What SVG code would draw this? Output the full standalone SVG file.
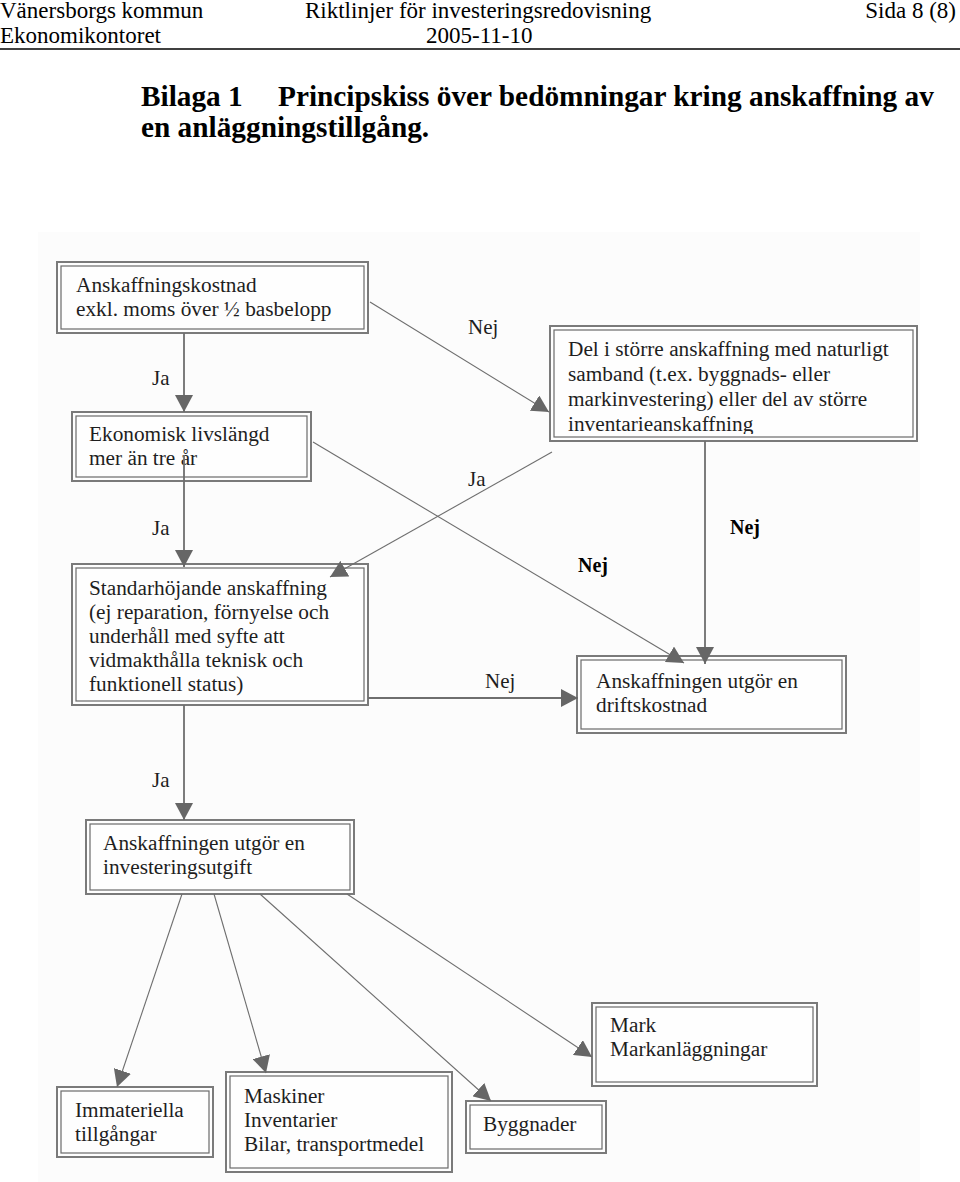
<svg xmlns="http://www.w3.org/2000/svg" width="960" height="1182" viewBox="0 0 960 1182">
<style>
.hdr{font-family:"Liberation Serif","Times New Roman",serif;font-size:23px;fill:#000}
.ttl{font-family:"Liberation Serif","Times New Roman",serif;font-size:29.3px;font-weight:bold;fill:#000}
.bo{fill:#fefefe;stroke:#7a7a7a;stroke-width:2}
.bi{fill:none;stroke:#6a6a6a;stroke-width:1.2}
.t{font-family:"Liberation Serif","Times New Roman",serif;font-size:21.3px;fill:#1e1e1e}
.lbl{font-family:"Liberation Serif","Times New Roman",serif;font-size:21px;fill:#1e1e1e}
.lblb{font-family:"Liberation Serif","Times New Roman",serif;font-size:20px;font-weight:bold;fill:#000}
.v{fill:none;stroke:#6e6e6e;stroke-width:1.8}
.d{fill:none;stroke:#6e6e6e;stroke-width:1.1}
</style>
<defs>
<marker id="ah" markerUnits="userSpaceOnUse" markerWidth="18" markerHeight="18" refX="17" refY="9" orient="auto" viewBox="0 0 18 18">
<path d="M0,0 L17,9 L0,18 z" fill="#666"/>
</marker>
<clipPath id="clipDel"><rect x="550" y="326" width="367" height="108"/></clipPath>
</defs>
<rect width="960" height="1182" fill="#fff"/>
<g id="header">
<text class="hdr" x="0" y="18">Vänersborgs kommun</text>
<text class="hdr" x="0" y="43">Ekonomikontoret</text>
<text class="hdr" x="305" y="18">Riktlinjer för investeringsredovisning</text>
<text class="hdr" x="426" y="43">2005-11-10</text>
<text class="hdr" x="956" y="18" text-anchor="end">Sida 8 (8)</text>
<line x1="0" y1="49" x2="960" y2="49" stroke="#000" stroke-width="1.5"/>
</g>
<g id="title">
<text class="ttl" x="141" y="106">Bilaga 1</text>
<text class="ttl" x="278" y="106">Principskiss över bedömningar kring anskaffning av</text>
<text class="ttl" x="141" y="137">en anläggningstillgång.</text>
</g>
<rect x="38" y="232" width="882" height="950" fill="#fcfcfc"/>
<g id="n1">
<rect class="bo" x="57" y="262" width="311" height="71"/>
<rect class="bi" x="61" y="266" width="303" height="63"/>
<text class="t" x="76" y="292">Anskaffningskostnad</text>
<text class="t" x="76" y="316">exkl. moms över ½ basbelopp</text>
</g>
<g id="n2">
<rect class="bo" x="72" y="412" width="239" height="69"/>
<rect class="bi" x="76" y="416" width="231" height="61"/>
<text class="t" x="89" y="441">Ekonomisk livslängd</text>
<text class="t" x="89" y="465">mer än tre år</text>
</g>
<g id="n5">
<rect class="bo" x="550" y="326" width="367" height="115"/>
<g clip-path="url(#clipDel)">
<text class="t" x="568" y="356">Del i större anskaffning med naturligt</text>
<text class="t" x="568" y="381">samband (t.ex. byggnads- eller</text>
<text class="t" x="568" y="406">markinvestering) eller del av större</text>
<text class="t" x="568" y="431">inventarieanskaffning</text>
</g>
<rect class="bi" x="554" y="330" width="359" height="107"/>
</g>
<g id="n3">
<rect class="bo" x="72" y="564" width="296" height="141"/>
<rect class="bi" x="76" y="568" width="288" height="133"/>
<text class="t" x="89" y="595">Standarhöjande anskaffning</text>
<text class="t" x="89" y="619">(ej reparation, förnyelse och</text>
<text class="t" x="89" y="643">underhåll med syfte att</text>
<text class="t" x="89" y="667">vidmakthålla teknisk och</text>
<text class="t" x="89" y="691">funktionell status)</text>
</g>
<g id="n4">
<rect class="bo" x="577" y="656" width="269" height="77"/>
<rect class="bi" x="581" y="660" width="261" height="69"/>
<text class="t" x="596" y="688">Anskaffningen utgör en</text>
<text class="t" x="596" y="712">driftskostnad</text>
</g>
<g id="n6">
<rect class="bo" x="86" y="820" width="268" height="74"/>
<rect class="bi" x="90" y="824" width="260" height="66"/>
<text class="t" x="103" y="850">Anskaffningen utgör en</text>
<text class="t" x="103" y="874">investeringsutgift</text>
</g>
<g id="n7">
<rect class="bo" x="57" y="1087" width="156" height="70"/>
<rect class="bi" x="61" y="1091" width="148" height="62"/>
<text class="t" x="75" y="1117">Immateriella</text>
<text class="t" x="75" y="1141">tillgångar</text>
</g>
<g id="n8">
<rect class="bo" x="226" y="1072" width="226" height="100"/>
<rect class="bi" x="230" y="1076" width="218" height="92"/>
<text class="t" x="244" y="1103">Maskiner</text>
<text class="t" x="244" y="1127">Inventarier</text>
<text class="t" x="244" y="1151">Bilar, transportmedel</text>
</g>
<g id="n9">
<rect class="bo" x="466" y="1101" width="140" height="52"/>
<rect class="bi" x="470" y="1105" width="132" height="44"/>
<text class="t" x="483" y="1131">Byggnader</text>
</g>
<g id="n10">
<rect class="bo" x="592" y="1003" width="225" height="83"/>
<rect class="bi" x="596" y="1007" width="217" height="75"/>
<text class="t" x="610" y="1032">Mark</text>
<text class="t" x="610" y="1056">Markanläggningar</text>
</g>
<g id="connectors">
<path class="v" d="M184,333 L184,412" marker-end="url(#ah)"/>
<path class="d" d="M370,302 L549,412" marker-end="url(#ah)"/>
<path class="v" d="M184,455 L184,567" marker-end="url(#ah)"/>
<path class="d" d="M313,442 L684,663" marker-end="url(#ah)"/>
<path class="d" d="M552,452 L330,577" marker-end="url(#ah)"/>
<path class="v" d="M705,441 L705,664" marker-end="url(#ah)"/>
<path class="v" d="M368,698 L578,698" marker-end="url(#ah)"/>
<path class="v" d="M184,705 L184,820" marker-end="url(#ah)"/>
<path class="d" d="M182,894 L117,1087" marker-end="url(#ah)"/>
<path class="d" d="M214,894 L266,1073" marker-end="url(#ah)"/>
<path class="d" d="M260,894 L491,1101" marker-end="url(#ah)"/>
<path class="d" d="M347,894 L592,1057" marker-end="url(#ah)"/>
<text class="lbl" x="152" y="385">Ja</text>
<text class="lbl" x="468" y="334">Nej</text>
<text class="lbl" x="152" y="535">Ja</text>
<text class="lbl" x="468" y="486">Ja</text>
<text class="lblb" x="578" y="572">Nej</text>
<text class="lblb" x="730" y="534">Nej</text>
<text class="lbl" x="485" y="688">Nej</text>
<text class="lbl" x="152" y="787">Ja</text>
</g>
</svg>
